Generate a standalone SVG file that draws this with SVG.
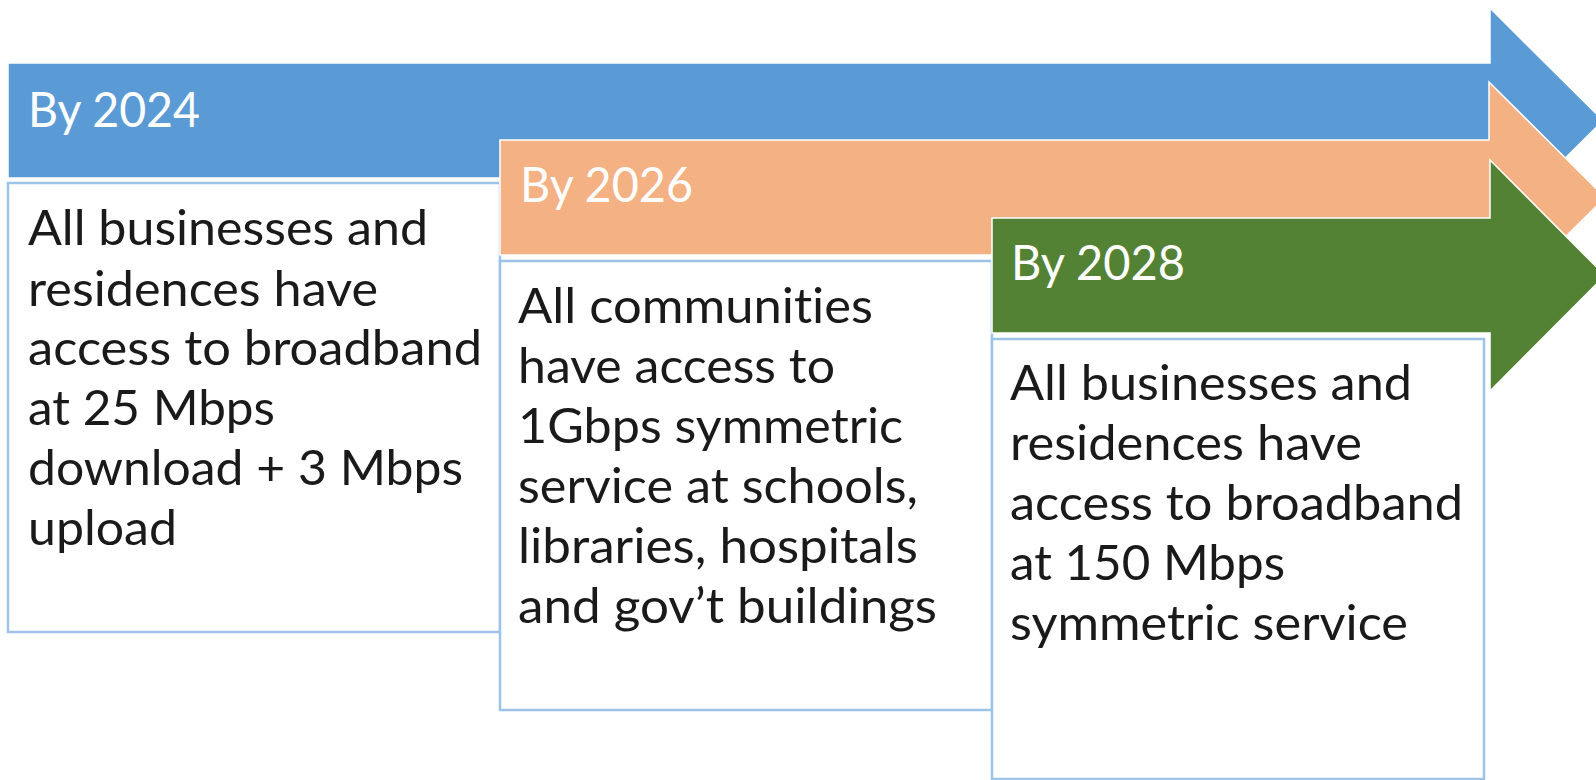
<svg xmlns="http://www.w3.org/2000/svg" width="1596" height="780" viewBox="0 0 1596 780">
<style>
.arrow{stroke:#ffffff;stroke-width:1.5}
.box{fill:#ffffff;stroke:#9dc3e6;stroke-width:2.5}
.hdr{font-family:Lato,"Open Sans","Liberation Sans",sans-serif;font-size:49px;fill:#ffffff;font-variant-ligatures:none}
.body{font-family:Lato,"Open Sans","Liberation Sans",sans-serif;font-size:49px;fill:#1a1a1a;font-variant-ligatures:none;font-feature-settings:"liga" 0,"dlig" 0}
</style>
<rect width="1596" height="780" fill="#ffffff"/>
<g id="step-2024-arrow">
<polygon class="arrow" fill="#5b9bd5" points="8,63 1490,63 1490,8 1603,120.5 1490,233 1490,178 8,178"/>
<text class="hdr" x="28" y="127" textLength="172" lengthAdjust="spacingAndGlyphs">By 2024</text>
</g>
<g id="step-2024-box">
<rect class="box" x="8" y="183" width="492" height="449"/>
<text class="body" x="28" y="245" textLength="400" lengthAdjust="spacingAndGlyphs">All businesses and</text>
<text class="body" x="28" y="306" textLength="350" lengthAdjust="spacingAndGlyphs">residences have</text>
<text class="body" x="28" y="365" textLength="454" lengthAdjust="spacingAndGlyphs">access to broadband</text>
<text class="body" x="28" y="425" textLength="247" lengthAdjust="spacingAndGlyphs">at 25 Mbps</text>
<text class="body" x="28" y="485" textLength="435" lengthAdjust="spacingAndGlyphs">download + 3 Mbps</text>
<text class="body" x="28" y="545" textLength="149" lengthAdjust="spacingAndGlyphs">upload</text>
</g>
<g id="step-2026-arrow">
<polygon class="arrow" fill="#f4b183" points="500,140 1489,140 1489,82 1605,197.5 1489,313 1489,255 500,255"/>
<text class="hdr" x="520" y="202" textLength="173" lengthAdjust="spacingAndGlyphs">By 2026</text>
</g>
<g id="step-2026-box">
<rect class="box" x="500" y="261" width="492" height="449"/>
<text class="body" x="518" y="323" textLength="355" lengthAdjust="spacingAndGlyphs">All communities</text>
<text class="body" x="518" y="383" textLength="317" lengthAdjust="spacingAndGlyphs">have access to</text>
<text class="body" x="518" y="443" textLength="385" lengthAdjust="spacingAndGlyphs">1Gbps symmetric</text>
<text class="body" x="518" y="503" textLength="400" lengthAdjust="spacingAndGlyphs">service at schools,</text>
<text class="body" x="518" y="563" textLength="400" lengthAdjust="spacingAndGlyphs">libraries, hospitals</text>
<text class="body" x="518" y="623" textLength="419" lengthAdjust="spacingAndGlyphs">and gov’t buildings</text>
</g>
<g id="step-2028-arrow">
<polygon class="arrow" fill="#548235" points="992,218 1490,218 1490,160 1605,275.5 1490,391 1490,333 992,333"/>
<text class="hdr" x="1011" y="280" textLength="174" lengthAdjust="spacingAndGlyphs">By 2028</text>
</g>
<g id="step-2028-box">
<rect class="box" x="992" y="339" width="492" height="440"/>
<text class="body" x="1010" y="400" textLength="402" lengthAdjust="spacingAndGlyphs">All businesses and</text>
<text class="body" x="1010" y="460" textLength="352" lengthAdjust="spacingAndGlyphs">residences have</text>
<text class="body" x="1010" y="520" textLength="453" lengthAdjust="spacingAndGlyphs">access to broadband</text>
<text class="body" x="1010" y="580" textLength="275" lengthAdjust="spacingAndGlyphs">at 150 Mbps</text>
<text class="body" x="1010" y="640" textLength="398" lengthAdjust="spacingAndGlyphs">symmetric service</text>
</g>
<g id="connectors"></g>
</svg>
